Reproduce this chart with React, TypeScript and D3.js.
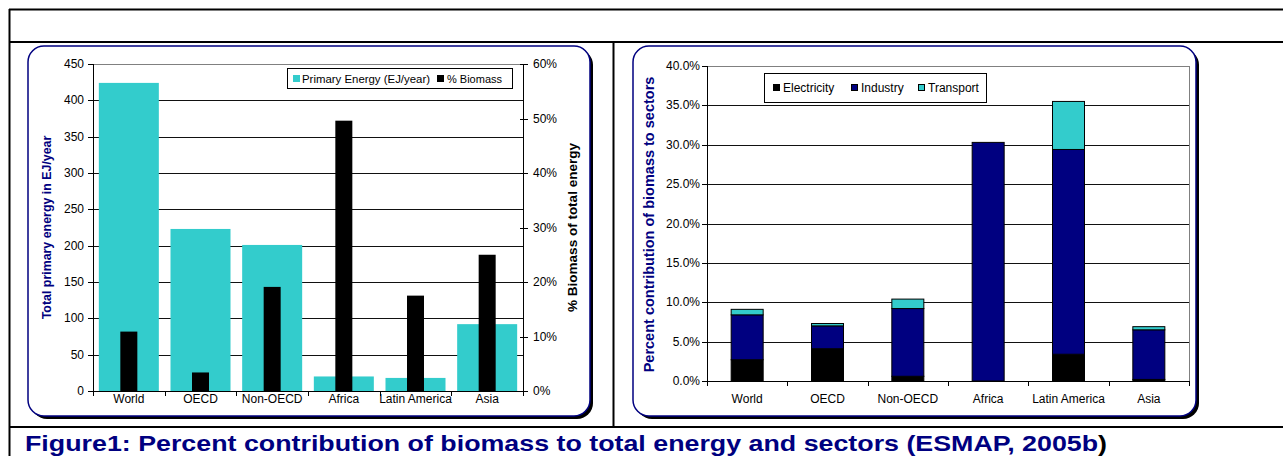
import React from "react";
import * as d3 from "d3";

const regions = ["World", "OECD", "Non-OECD", "Africa", "Latin America", "Asia"];
const primaryEnergy = [424, 223, 201, 20, 18, 92];
const biomassShare = [0.109, 0.034, 0.191, 0.496, 0.175, 0.25];
const energyTicks = [0, 50, 100, 150, 200, 250, 300, 350, 400, 450];
const shareTicks = [0, 0.1, 0.2, 0.3, 0.4, 0.5, 0.6];

const sectorNames = ["Electricity", "Industry", "Transport"];
const electricity = [0.027, 0.041, 0.006, 0.0, 0.034, 0.002];
const industry = [0.057, 0.029, 0.086, 0.303, 0.26, 0.063];
const transport = [0.007, 0.003, 0.012, 0.0, 0.061, 0.004];
const sectorTicks = [0, 0.05, 0.1, 0.15, 0.2, 0.25, 0.3, 0.35, 0.4];

const TEAL = "#33CCCC";
const NAVY = "#000080";
const FONT = "'Liberation Sans', Arial, sans-serif";

function Panel({ x, y, w, h }: { x: number; y: number; w: number; h: number }) {
  return (
    <g>
      <rect x={x + 3} y={y + 3} width={w} height={h} rx={16} ry={16} fill="#000" />
      <rect x={x} y={y} width={w} height={h} rx={16} ry={16} fill="#fff" stroke={NAVY} strokeWidth={1.5} />
    </g>
  );
}

function LeftChart() {
  const x0 = 93, x1 = 523, yTop = 64, yBot = 391;
  const xb = d3.scaleBand<string>().domain(regions).range([x0, x1]);
  const yE = d3.scaleLinear().domain([0, 450]).range([yBot, yTop]);
  const yP = d3.scaleLinear().domain([0, 0.6]).range([yBot, yTop]);
  const tealW = 60, blackW = 17;
  return (
    <g fontFamily={FONT}>
      {energyTicks.filter((t) => t > 0 && t < 450).map((t) => (
        <line key={t} x1={x0} x2={x1} y1={Math.round(yE(t)) + 0.5} y2={Math.round(yE(t)) + 0.5} stroke="#111" strokeWidth={1} />
      ))}
      <line x1={x0} x2={x1} y1={yTop + 0.5} y2={yTop + 0.5} stroke="#808080" strokeWidth={1} />
      {regions.map((r, i) => {
        const cx = (xb(r) as number) + xb.bandwidth() / 2;
        return (
          <rect key={"e" + r} x={cx - tealW / 2} y={yE(primaryEnergy[i])} width={tealW} height={yBot - yE(primaryEnergy[i])} fill={TEAL} />
        );
      })}
      {regions.map((r, i) => {
        const cx = (xb(r) as number) + xb.bandwidth() / 2;
        return (
          <rect key={"p" + r} x={cx - blackW / 2} y={yP(biomassShare[i])} width={blackW} height={yBot - yP(biomassShare[i])} fill="#000" />
        );
      })}
      {/* axes */}
      <line x1={x0 + 0.5} x2={x0 + 0.5} y1={yTop} y2={yBot} stroke="#000" />
      <line x1={x1 + 0.5} x2={x1 + 0.5} y1={yTop} y2={yBot} stroke="#000" />
      <line x1={x0} x2={x1 + 1} y1={yBot + 0.5} y2={yBot + 0.5} stroke="#000" />
      {energyTicks.map((t) => (
        <g key={"lt" + t}>
          <line x1={x0 - 5} x2={x0} y1={Math.round(yE(t)) + 0.5} y2={Math.round(yE(t)) + 0.5} stroke="#000" />
          <text x={x0 - 9} y={yE(t) + 4} fontSize={12} textAnchor="end" fill="#000">{t}</text>
        </g>
      ))}
      {shareTicks.map((t) => (
        <g key={"rt" + t}>
          <line x1={x1 - 3} x2={x1 + 5} y1={Math.round(yP(t)) + 0.5} y2={Math.round(yP(t)) + 0.5} stroke="#000" />
          <text x={x1 + 10} y={yP(t) + 4} fontSize={12} textAnchor="start" fill="#000">{d3.format(".0%")(t)}</text>
        </g>
      ))}
      {[...regions.map((r) => xb(r) as number), x1].map((v, i) => (
        <line key={"bt" + i} x1={Math.round(v) + 0.5} x2={Math.round(v) + 0.5} y1={yBot} y2={yBot + 5} stroke="#000" />
      ))}
      {regions.map((r) => (
        <text key={"c" + r} x={(xb(r) as number) + xb.bandwidth() / 2} y={yBot + 12} fontSize={12} textAnchor="middle" fill="#000">{r}</text>
      ))}
      <text transform={`translate(51,${(yTop + yBot) / 2}) rotate(-90)`} fontSize={12.4} fontWeight="bold" fill={NAVY} textAnchor="middle">Total primary energy in EJ/year</text>
      <text transform={`translate(577,${(yTop + yBot) / 2}) rotate(-90)`} fontSize={13.5} fontWeight="bold" fill="#000" textAnchor="middle">% Biomass of total energy</text>
      {/* legend */}
      <rect x={287.5} y={68.5} width={225} height={20} fill="#fff" stroke="#000" strokeWidth={1} />
      <rect x={293} y={75} width={7} height={7} fill={TEAL} />
      <text x={302} y={82.5} fontSize={11} fill="#000" textLength={128} lengthAdjust="spacingAndGlyphs">Primary Energy (EJ/year)</text>
      <rect x={437} y={75} width={7} height={7} fill="#000" />
      <text x={447} y={82.5} fontSize={11} fill="#000">% Biomass</text>
    </g>
  );
}

function RightChart() {
  const x0 = 707, x1 = 1189, yTop = 66, yBot = 381;
  const xb = d3.scaleBand<string>().domain(regions).range([x0, x1]);
  const y = d3.scaleLinear().domain([0, 0.4]).range([yBot, yTop]);
  const barW = 32;
  const rows = regions.map((r, i) => ({ region: r, Electricity: electricity[i], Industry: industry[i], Transport: transport[i] }));
  const stack = d3.stack<any>().keys(sectorNames)(rows);
  const colors = ["#000", NAVY, TEAL];
  const fmt = d3.format(".1%");
  return (
    <g fontFamily={FONT}>
      {sectorTicks.filter((t) => t > 0 && t < 0.4).map((t) => (
        <line key={t} x1={x0} x2={x1} y1={Math.round(y(t)) + 0.5} y2={Math.round(y(t)) + 0.5} stroke="#111" />
      ))}
      <line x1={x0} x2={x1} y1={yTop + 0.5} y2={yTop + 0.5} stroke="#808080" />
      <line x1={x1 + 0.5} x2={x1 + 0.5} y1={yTop} y2={yBot} stroke="#808080" />
      {stack.map((layer, li) =>
        layer.map((d, i) => {
          const h = y(d[0]) - y(d[1]);
          if (h <= 0) return null;
          const cx = (xb(regions[i]) as number) + xb.bandwidth() / 2;
          return (
            <rect key={li + "-" + i} x={cx - barW / 2} y={y(d[1])} width={barW} height={h} fill={colors[li]} stroke="#000" strokeWidth={1} />
          );
        })
      )}
      <line x1={x0 + 0.5} x2={x0 + 0.5} y1={yTop} y2={yBot} stroke="#000" />
      <line x1={x0} x2={x1 + 1} y1={yBot + 0.5} y2={yBot + 0.5} stroke="#000" />
      {sectorTicks.map((t) => (
        <g key={"t" + t}>
          <line x1={x0 - 5} x2={x0} y1={Math.round(y(t)) + 0.5} y2={Math.round(y(t)) + 0.5} stroke="#000" />
          <text x={x0 - 7} y={y(t) + 4} fontSize={12} textAnchor="end" fill="#000">{fmt(t)}</text>
        </g>
      ))}
      {[...regions.map((r) => xb(r) as number), x1].map((v, i) => (
        <line key={"bt" + i} x1={Math.round(v) + 0.5} x2={Math.round(v) + 0.5} y1={yBot} y2={yBot + 5} stroke="#000" />
      ))}
      {regions.map((r) => (
        <text key={"c" + r} x={(xb(r) as number) + xb.bandwidth() / 2} y={yBot + 22} fontSize={12} textAnchor="middle" fill="#000">{r}</text>
      ))}
      <text transform={`translate(654,${(yTop + yBot) / 2 + 1}) rotate(-90)`} fontSize={14.5} fontWeight="bold" fill={NAVY} textAnchor="middle">Percent contribution of biomass to sectors</text>
      <rect x={764.5} y={73.5} width={222} height={29} fill="#fff" stroke="#000" />
      <rect x={773.5} y={84.5} width={6} height={6} fill="#000" stroke="#000" />
      <text x={783} y={92} fontSize={12} fill="#000">Electricity</text>
      <rect x={851.5} y={84.5} width={6} height={6} fill={NAVY} stroke="#000" />
      <text x={861} y={92} fontSize={12} fill="#000">Industry</text>
      <rect x={918.5} y={84.5} width={6} height={6} fill={TEAL} stroke="#000" />
      <text x={928} y={92} fontSize={12} fill="#000">Transport</text>
    </g>
  );
}

export default function App() {
  return (
    <div style={{ position: "absolute", left: 0, top: 0 }}>
      <svg width={1283} height={456} style={{ display: "block" }}>
        <rect x={0} y={0} width={1283} height={456} fill="#fff" />
        {/* table lines */}
        <line x1={9} x2={1283} y1={9.5} y2={9.5} stroke="#000" strokeWidth={2} />
        <line x1={9.5} x2={9.5} y1={9} y2={456} stroke="#000" strokeWidth={2} />
        <line x1={9} x2={1283} y1={42} y2={42} stroke="#000" strokeWidth={2} />
        <line x1={613.5} x2={613.5} y1={42} y2={427} stroke="#000" strokeWidth={2} />
        <line x1={9} x2={1283} y1={427} y2={427} stroke="#000" strokeWidth={2} />
        <Panel x={28} y={46} w={562} h={370} />
        <Panel x={633} y={46} w={563} h={370} />
        <LeftChart />
        <RightChart />
        <text x={25} y={450.5} fontFamily={FONT} fontSize={22} fontWeight="bold" fill={NAVY} textLength={1082} lengthAdjust="spacingAndGlyphs">
          Figure1: Percent contribution of biomass to total energy and sectors (ESMAP, 2005b<tspan fill="#000">)</tspan>
        </text>
      </svg>
    </div>
  );
}
